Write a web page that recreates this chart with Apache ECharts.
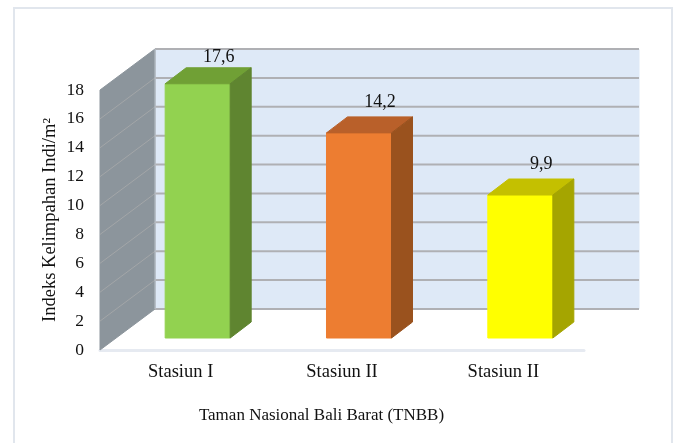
<!DOCTYPE html>
<html>
<head>
<meta charset="utf-8">
<style>html,body{margin:0;padding:0;background:#fff}#chart{width:676px;height:443px}</style>
<script src="https://cdn.jsdelivr.net/npm/echarts@6/dist/echarts.min.js"></script>
</head>
<body>
<div id="chart"></div>
<script>
// Abundance index per station
const categories = ['Stasiun I', 'Stasiun II', 'Stasiun II'];
const values = [17.6, 14.2, 9.9];
const yTicks = [0, 2, 4, 6, 8, 10, 12, 14, 16, 18];
const faceColors = ['#92d250', '#ed7d31', '#ffff00'];
const topColors = ['#70a035', '#b9602a', '#c4c000'];
const sideColors = ['#5f8530', '#9a521e', '#a5a500'];

const FONT = '"Liberation Serif", "Times New Roman", serif';
const TEXT = '#111111';
// Oblique projection used for the 3D look, in pixels
const WALL_DX = 55, WALL_DY = 41;
const BAR_INSET_X = 17, BAR_INSET_Y = 12;
const BAR_DX = 21, BAR_DY = 16;
const BAR_RATIO = 0.403;

function poly(points, fill, stroke) {
  return {
    type: 'polygon',
    shape: { points: points },
    style: { fill: fill, stroke: stroke || fill, lineWidth: 1 }
  };
}

// Side wall, back wall and the gridlines running over both
function renderWalls(params, api) {
  const band = api.size([1, 0])[0];
  const p0 = api.coord([0, 0]);
  const pT = api.coord([0, yTicks[yTicks.length - 1]]);
  const left = p0[0] - band / 2;
  const right = left + band * categories.length;
  const children = [
    poly([[left + WALL_DX, pT[1] - WALL_DY], [right + WALL_DX, pT[1] - WALL_DY],
          [right + WALL_DX, p0[1] - WALL_DY], [left + WALL_DX, p0[1] - WALL_DY]], '#dee9f7'),
    poly([[left, pT[1]], [left + WALL_DX, pT[1] - WALL_DY],
          [left + WALL_DX, p0[1] - WALL_DY], [left, p0[1]]], '#8c959c')
  ];
  yTicks.forEach(function (t) {
    const y = api.coord([0, t])[1];
    children.push({
      type: 'polyline',
      shape: { points: [[left + WALL_DX, y - WALL_DY], [right + WALL_DX, y - WALL_DY]] },
      style: { stroke: '#afb0b4', lineWidth: 2, fill: null }
    });
    if (t > 0 && t < yTicks[yTicks.length - 1]) {
      children.push({
        type: 'polyline',
        shape: { points: [[left, y], [left + WALL_DX, y - WALL_DY]] },
        style: { stroke: '#a3a6a8', lineWidth: 1, fill: null }
      });
    }
  });
  children.push({
    type: 'polyline',
    shape: { points: [[left + WALL_DX, pT[1] - WALL_DY], [left + WALL_DX, p0[1] - WALL_DY]] },
    style: { stroke: '#b9c0c8', lineWidth: 1, fill: null }
  });
  return { type: 'group', children: children };
}

// One box per category: front face, top, side and the value above it
function renderBar(params, api) {
  const i = api.value(0);
  const val = api.value(1);
  const top = api.coord([i, val]);
  const base = api.coord([i, 0]);
  const w = api.size([1, 0])[0] * BAR_RATIO;
  const x0 = top[0] - w / 2 + BAR_INSET_X;
  const x1 = x0 + w;
  const yT = top[1] - BAR_INSET_Y;
  const yB = base[1] - BAR_INSET_Y;
  return {
    type: 'group',
    children: [
      poly([[x0, yT], [x1, yT], [x1, yB], [x0, yB]], faceColors[i]),
      poly([[x0, yT], [x0 + BAR_DX, yT - BAR_DY], [x1 + BAR_DX, yT - BAR_DY], [x1, yT]], topColors[i]),
      poly([[x1, yT], [x1 + BAR_DX, yT - BAR_DY], [x1 + BAR_DX, yB - BAR_DY], [x1, yB]], sideColors[i]),
      {
        type: 'text',
        style: {
          x: (x0 + x1) / 2 + BAR_DX,
          y: yT - BAR_DY - (i === 0 ? 11 : 15),
          text: String(val).replace('.', ','),
          font: '18px ' + FONT,
          fill: TEXT,
          align: 'center',
          verticalAlign: 'middle'
        }
      }
    ]
  };
}

const chart = echarts.init(document.getElementById('chart'), null, { renderer: 'canvas' });
chart.setOption({
  animation: false,
  backgroundColor: '#ffffff',
  graphic: [{
    type: 'rect',
    silent: true,
    z: -1,
    shape: { x: 14, y: 8, width: 658, height: 450 },
    style: { fill: '#ffffff', stroke: '#e1e6ed', lineWidth: 2 }
  }],
  grid: { left: 100, top: 90, width: 484, height: 260, containLabel: false },
  xAxis: {
    type: 'category',
    data: categories,
    boundaryGap: true,
    axisLine: { show: true, lineStyle: { color: '#e6eaf1', width: 3 } },
    axisTick: { show: false },
    axisLabel: { color: TEXT, fontFamily: FONT, fontSize: 18.5, margin: 13 },
    name: 'Taman Nasional Bali Barat (TNBB)',
    nameLocation: 'middle',
    nameGap: 57,
    nameMoveOverlap: false,
    nameTextStyle: { color: TEXT, fontFamily: FONT, fontSize: 17, padding: [0, 41, 0, 0] }
  },
  yAxis: {
    type: 'value',
    min: yTicks[0],
    max: yTicks[yTicks.length - 1],
    interval: 2,
    axisLine: { show: false },
    axisTick: { show: false },
    splitLine: { show: false },
    axisLabel: { color: TEXT, fontFamily: FONT, fontSize: 17.5, margin: 16 },
    name: 'Indeks Kelimpahan Indi/m²',
    nameLocation: 'middle',
    nameGap: 40,
    nameMoveOverlap: false,
    nameTextStyle: { color: TEXT, fontFamily: FONT, fontSize: 18.5 }
  },
  series: [
    {
      type: 'custom',
      z: 1,
      silent: true,
      clip: false,
      renderItem: renderWalls,
      data: [[0, 0]],
      encode: { x: 0, y: 1 }
    },
    {
      type: 'custom',
      z: 2,
      silent: true,
      clip: false,
      renderItem: renderBar,
      data: values.map(function (v, i) { return [i, v]; }),
      encode: { x: 0, y: 1 }
    }
  ]
});
</script>
</body>
</html>
